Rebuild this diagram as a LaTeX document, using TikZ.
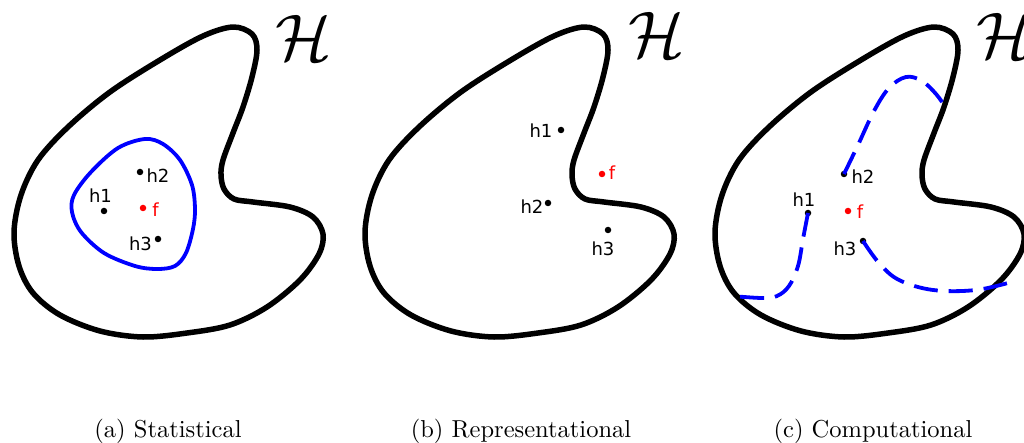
\documentclass[tikz,border=0pt]{standalone}
\usepackage{fontspec}
\newfontfamily\lblfont{DejaVu Sans}
\begin{document}
\begin{tikzpicture}[x=1pt,y=-1pt,
  outline/.style={line width=5.5pt, line join=round},
  bluesolid/.style={draw=blue, line width=3.8pt},
  bluedash/.style={draw=blue, line width=3.8pt, dash pattern=on 24pt off 11pt},
  dot/.style={circle, fill=black, inner sep=0pt, minimum size=6.5pt},
  rdot/.style={dot, fill=red},
  lbl/.style={inner sep=0pt, font=\lblfont\fontsize{18}{21}\selectfont},
  rlbl/.style={lbl, text=red},
  hsym/.style={inner sep=0pt, scale=6.6},
  captext/.style={inner sep=0pt, scale=2.45, anchor=base},
  blob/.pic={\draw[outline] plot[smooth cycle, tension=0.55] coordinates {
    (14,232) (19,266) (33,293) (60,315) (100,331) (143,337) (187,333)
    (230,325) (267,307) (300,280) (319,254) (323,234) (313,217) (290,207)
    (253,202) (234,199) (224,189) (221,175) (223,160) (233,133) (243,107)
    (252,77) (257,50) (252,34) (233,27) (203,36) (160,60) (110,92)
    (68,127) (38,160) (21,195)};}
]
\useasboundingbox (0,0) rectangle (1024,443);
\clip (0,0) rectangle (1024,443);

% ---------- panel (a)
\pic at (0,0) {blob};
\draw[bluesolid] plot[smooth cycle, tension=0.55] coordinates {
  (145,139) (118,148) (91,172) (74,195) (72,212) (81,232) (104,253) (135,266)
  (157,269) (175,266) (186,253) (193,229) (195,209) (192,185) (180,160) (163,144)};
\node[dot] (a-h1) at (104,211) {};
\node[dot] (a-h2) at (140,172) {};
\node[rdot] (a-f) at (143,208) {};
\node[dot] (a-h3) at (158,239) {};
\node[lbl] (a-l1) at (100.5,196) {h1};
\node[lbl] (a-l2) at (158,176) {h2};
\node[rlbl] (a-lf) at (155.5,210) {f};
\node[lbl] (a-l3) at (140.5,244) {h3};
\node[hsym] (a-H) at (304,38) {$\mathcal{H}$};
\node[captext] (a-cap) at (168,437) {(a) Statistical};

% ---------- panel (b)
\pic at (351,0) {blob};
\node[dot] (b-h1) at (561,130) {};
\node[rdot] (b-f) at (602,174) {};
\node[dot] (b-h2) at (548,203) {};
\node[dot] (b-h3) at (608,230) {};
\node[lbl] (b-l1) at (541,131) {h1};
\node[rlbl] (b-lf) at (612,173) {f};
\node[lbl] (b-l2) at (532,207) {h2};
\node[lbl] (b-l3) at (603,249) {h3};
\node[hsym] (b-H) at (657,35) {$\mathcal{H}$};
\node[captext] (b-cap) at (521,437) {(b) Representational};

% ---------- panel (c)
\pic at (701,0) {blob};
\node[dot] (c-h1) at (808,213) {};
\node[dot] (c-h2) at (844,174) {};
\node[rdot] (c-f) at (848,211) {};
\node[dot] (c-h3) at (863,241) {};
\coordinate (c-endA) at (946,108);
\coordinate (c-endB) at (732,296);
\coordinate (c-endC) at (1015,281);
\draw[bluedash] plot[smooth, tension=0.6] coordinates {
  (c-h2.center) (858,145) (874,111) (889,88) (906,77) (922,81) (936,94) (c-endA)};
\draw[bluedash] plot[smooth, tension=0.6] coordinates {
  (c-h1.center) (803,239) (798,266) (789,286) (777,296) (762,298) (c-endB)};
\draw[bluedash] plot[smooth, tension=0.6] coordinates {
  (c-h3.center) (879,263) (899,280) (933,290) (976,290) (c-endC)};
\node[lbl] (c-l1) at (804,200) {h1};
\node[lbl] (c-l2) at (863,177) {h2};
\node[rlbl] (c-lf) at (860,212) {f};
\node[lbl] (c-l3) at (845,249) {h3};
\node[hsym] (c-H) at (1005,36) {$\mathcal{H}$};
\node[captext] (c-cap) at (873,437) {(c) Computational};
\end{tikzpicture}
\end{document}
